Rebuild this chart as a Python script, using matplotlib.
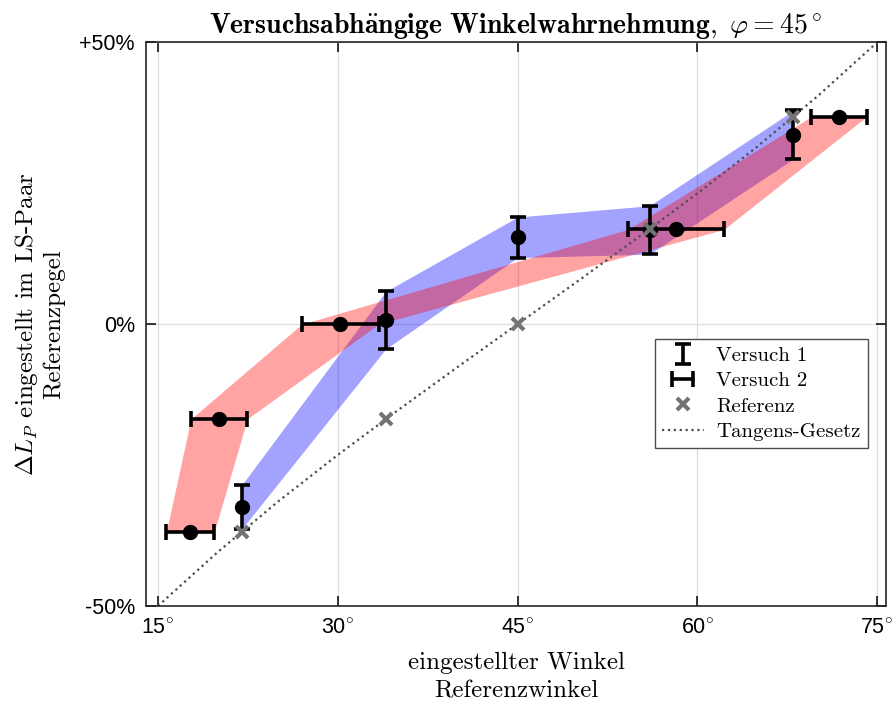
import numpy as np
import matplotlib
matplotlib.use("Agg")
import matplotlib.pyplot as plt

# ---- data ----
ref_x = [22, 34, 45, 56, 68]
ref_y = [-36.8, -16.8, 0.0, 16.8, 36.8]

v1_x = [22, 34, 45, 56, 68]
v1_y = [-32.4, 0.7, 15.4, 16.7, 33.6]
v1_err = [3.9, 5.1, 3.6, 4.3, 4.3]

v2_y = [-36.8, -16.8, 0.0, 16.8, 36.8]
v2_x = [17.7, 20.1, 30.2, 58.2, 71.8]
v2_err = [2.0, 2.35, 3.2, 4.0, 2.3]

tan_x = [15, 20, 25, 30, 35, 40, 45, 50, 55, 60, 65, 70, 75]
tan_y = [-50, -40.4, -31.5, -23.2, -15.3, -7.6, 0, 7.6, 15.3, 23.2, 31.5, 40.4, 50]

xticks = [15, 30, 45, 60, 75]
yticks = [-50, 0, 50]
ytick_labels = ["-50%", "0%", "+50%"]

plt.rcParams['mathtext.fontset'] = 'cm'
plt.rcParams['axes.formatter.use_mathtext'] = True
serif = ['cmr10', 'DejaVu Serif']

fig = plt.figure(figsize=(8.93, 7.10), dpi=100)
ax = fig.add_axes([0.1635, 0.1465, 0.829, 0.794])

v1_y_a = np.array(v1_y); v1_e = np.array(v1_err)
v2_x_a = np.array(v2_x); v2_e = np.array(v2_err)

ax.fill_between(v1_x, v1_y_a - v1_e, v1_y_a + v1_e, color=(0.0, 0.0, 1.0), alpha=0.36, lw=0, zorder=1)
ax.fill_betweenx(v2_y, v2_x_a - v2_e, v2_x_a + v2_e, color=(1.0, 0.0, 0.0), alpha=0.36, lw=0, zorder=1.1)

ax.plot(tan_x, tan_y, ls=':', color='0.3', lw=1.6, zorder=2, label='Tangens-Gesetz')

ax.errorbar(v1_x, v1_y, yerr=v1_err, fmt='none', ecolor='black', elinewidth=2.6,
            capsize=6, capthick=2.6, zorder=3, label='Versuch 1')
ax.errorbar(v2_x, v2_y, xerr=v2_err, fmt='none', ecolor='black', elinewidth=2.6,
            capsize=6, capthick=2.6, zorder=3, label='Versuch 2')
ax.plot(v1_x, v1_y, 'o', color='black', ms=10, zorder=4)
ax.plot(v2_x, v2_y, 'o', color='black', ms=10, zorder=4)
ax.plot(ref_x, ref_y, 'x', color='0.45', ms=8, mew=3, ls='none', zorder=5, label='Referenz')

ax.set_xlim(14, 75.75)
ax.set_ylim(-50, 50)
ax.set_xticks(xticks)
ax.set_xticklabels([f"{t}$^{{\\circ}}$" for t in xticks], fontsize=15.5, family='Liberation Sans')
ax.set_yticks(yticks)
ax.set_yticklabels(ytick_labels, fontsize=15.5, family='Liberation Sans')
ax.tick_params(direction='in', length=7, width=1.1, top=True, right=True, pad=9, colors='black')
ax.tick_params(axis='y', pad=8)
ax.grid(True, color='0.87', lw=0.9)
ax.set_axisbelow(True)
for s in ax.spines.values():
    s.set_linewidth(1.2)
    s.set_color('0.15')

ax.set_title(r"$\mathbf{Versuchsabh\ddot{a}ngige\ Winkelwahrnehmung},\ \varphi = 45^\circ$",
             fontsize=20, pad=7)
ax.set_xlabel("eingestellter Winkel\nReferenzwinkel", family=serif, fontsize=18, labelpad=9,
              linespacing=1.35)
ax.set_ylabel("$\\Delta L_P$ eingestellt im LS-Paar\nReferenzpegel", family=serif, fontsize=18,
              labelpad=10, linespacing=1.2)

h, l = ax.get_legend_handles_labels()
order = [l.index('Versuch 1'), l.index('Versuch 2'), l.index('Referenz'), l.index('Tangens-Gesetz')]
leg = ax.legend([h[i] for i in order], [l[i] for i in order], loc='upper left',
                bbox_to_anchor=(0.687, 0.473), prop={'family': serif, 'size': 15},
                fancybox=False, edgecolor='0.3', framealpha=1, borderpad=0.35,
                labelspacing=0.32, handlelength=2.0, handletextpad=0.6, borderaxespad=0)
leg.get_frame().set_linewidth(1.0)

fig.savefig("out.png", dpi=100)
